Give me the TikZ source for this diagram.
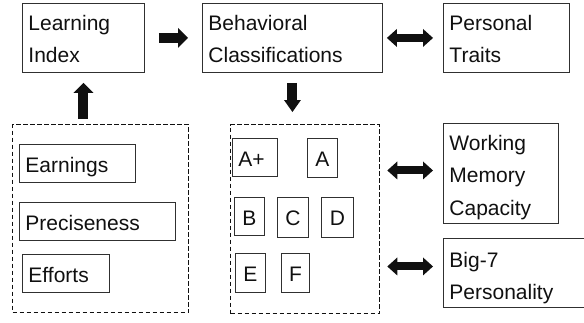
\documentclass[tikz,border=0pt]{standalone}
\usepackage{fontspec}
\setmainfont{Liberation Sans}
\usetikzlibrary{arrows.meta,calc}
\definecolor{edge}{HTML}{303030}
\definecolor{ink}{HTML}{101010}
\tikzset{
  box/.style={draw=edge, line width=0.9pt, inner xsep=6pt, inner ysep=0pt,
    anchor=north west, align=left, text=ink, font=\fontsize{21}{32.5}\selectfont},
  onerow/.style={box, text height=28pt, text depth=10pt},
  letter/.style={onerow, align=center},
  group/.style={draw=ink, line width=1.3pt, dash pattern=on 4.5pt off 2.5pt,
    anchor=north west, inner sep=0pt},
  blk/.style={draw=ink, line width=10pt,
    -{Triangle[length=10pt,width=20pt,line width=0pt]}},
  dnblk/.style={draw=ink, line width=10pt,
    -{Triangle[length=12pt,width=17pt,line width=0pt]}},
  dbl/.style={draw=ink, line width=8pt,
    {Triangle[length=10pt,width=18pt,line width=0pt]}-{Triangle[length=10pt,width=18pt,line width=0pt]}}
}
\begin{document}
\begin{tikzpicture}[x=1pt,y=-1pt]
\useasboundingbox (0,0) rectangle (584,322);

% top row
\node[box, text width=110pt, text height=27pt, text depth=42pt] (LI) at (22,3) {Learning\\Index};
\node[box, text width=168pt, text height=27pt, text depth=42pt] (BC) at (202,3) {Behavioral\\Classifications};
\node[box, text width=114pt, text height=27pt, text depth=42pt] (PT) at (443,3) {Personal\\Traits};

% learning index inputs
\node[group, minimum width=176pt, minimum height=188pt] (LD) at (12,124) {};
\node[onerow, text width=104pt] (EA) at (19,144) {Earnings};
\node[onerow, text width=144pt] (PR) at (19,202) {Preciseness};
\node[onerow, text width=75pt] (EF) at (22,254) {Efforts};

% behavioral classes
\node[group, minimum width=149pt, minimum height=189pt] (RD) at (230,124) {};
\node[onerow, text width=33pt] (CAp) at (232,138) {A+};
\node[letter, text width=18pt, text depth=11pt] (CA) at (307,138) {A};
\node[letter, text width=18pt] (CB) at (234,197) {B};
\node[letter, text width=19pt, text depth=12pt] (CC) at (277,197) {C};
\node[letter, text width=20pt, text depth=12pt] (CD) at (321,197) {D};
\node[letter, text width=18pt, text depth=11pt] (CE) at (235,253) {E};
\node[letter, text width=16pt, text depth=11pt] (CF) at (281,253) {F};

% traits on the right
\node[box, text width=103pt, text height=27pt, text depth=73pt] (WM) at (443,123) {Working\\Memory\\Capacity};
\node[box, text width=138pt, text height=29pt, text depth=40pt] (BP) at (443,238) {Big-7\\Personality};

% block arrows
\draw[blk] ($(LI.east)+(14,0)$) -- ($(BC.west)+(-14,0)$);
\draw[dbl] ($(BC.east)+(4,0)$) -- ($(PT.west)+(-10,0)$);
\draw[blk] ($(LI.south |- LD.north)+(0,-5)$) -- ($(LI.south)+(0,10)$);
\draw[dnblk] ($(BC.south)+(0,10)$) -- ($(BC.south |- RD.north)+(0,-12)$);
\draw[dbl] ($(RD.east |- WM.west)+(7,-3)$) -- ($(WM.west)+(-10,-3)$);
\draw[dbl] ($(RD.east |- BP.west)+(7,-6.5)$) -- ($(BP.west)+(-10,-6.5)$);
\end{tikzpicture}
\end{document}
